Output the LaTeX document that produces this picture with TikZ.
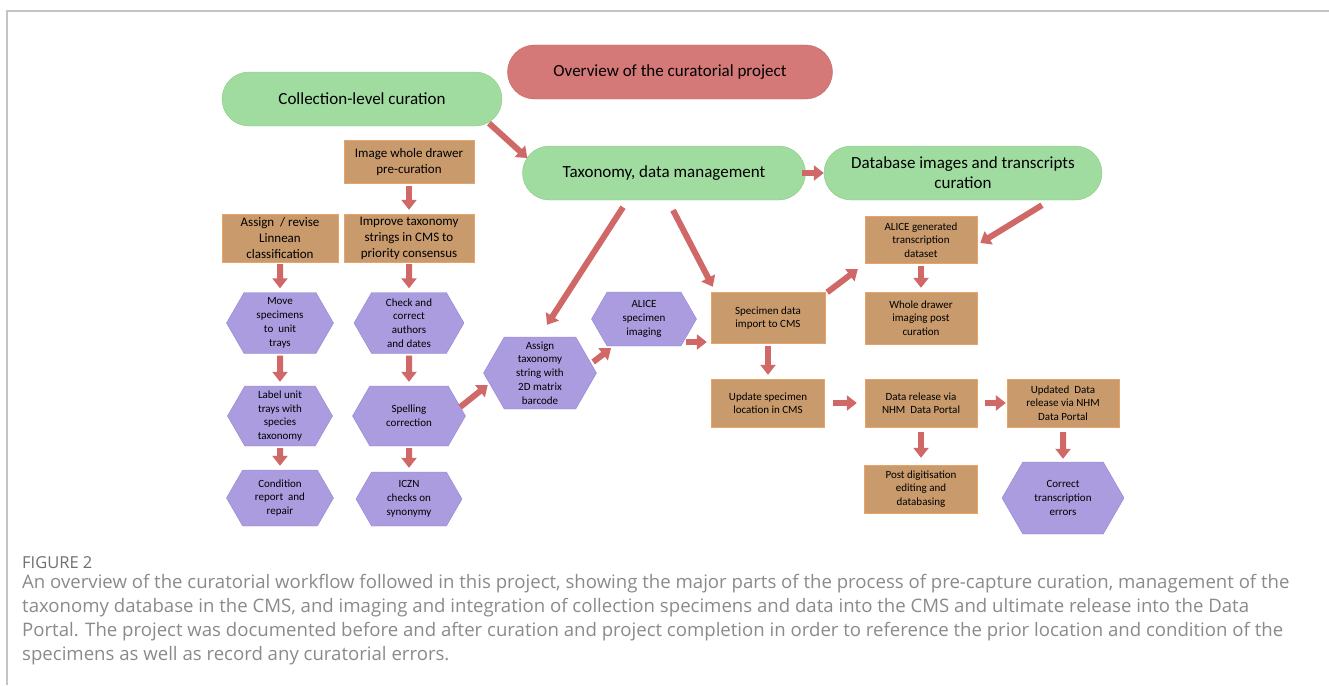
\documentclass[tikz,border=0pt]{standalone}
\usepackage{fontspec}
\setmainfont{Carlito}
\newfontfamily\capfont{Open Sans}
\usetikzlibrary{arrows.meta,positioning,shapes.misc,shapes.symbols}
\definecolor{ovalgreen}{HTML}{A0DCA0}
\definecolor{ovalgreenline}{HTML}{8CC87C}
\definecolor{ovalred}{HTML}{D47878}
\definecolor{ovalredline}{HTML}{C46464}
\definecolor{boxtan}{HTML}{C89A6C}
\definecolor{boxline}{HTML}{E8A468}
\definecolor{hexpurple}{HTML}{AA9CDE}
\definecolor{hexline}{HTML}{9484D4}
\definecolor{arrowred}{HTML}{D06868}
\definecolor{framegray}{HTML}{C4C4C4}
\definecolor{captiongray}{HTML}{8A8A8A}
\definecolor{labelgray}{HTML}{707070}

\begin{document}
\begin{tikzpicture}[x=1pt,y=-1pt,>={Triangle[width=15pt,length=10pt]}]
\tikzstyle{oval}=[rounded rectangle,draw=ovalgreenline,fill=ovalgreen,align=center,minimum height=54pt,inner sep=0pt,font=\fontsize{17}{20}\selectfont]
\tikzstyle{box}=[draw=boxline,fill=boxtan,align=center,inner sep=0pt,minimum width=113pt,minimum height=48pt,font=\fontsize{11}{13.5}\selectfont]
\tikzstyle{bigbox}=[box,minimum width=130pt,font=\fontsize{13}{16}\selectfont]
\tikzstyle{hexa}=[signal,signal to=east and west,signal pointer angle=120,draw=hexline,fill=hexpurple,align=center,inner sep=0pt,minimum width=107pt,minimum height=60pt,font=\fontsize{11}{13.8}\selectfont]
\tikzstyle{arr}=[->,draw=arrowred,line width=6pt,shorten >=4pt,shorten <=2pt]
\tikzstyle{darr}=[arr,shorten >=0pt,shorten <=0pt]
\useasboundingbox (0,0) rectangle (1329,685);
\draw[framegray,line width=1.5pt] (7,685) -- (7,11) -- (1329,11);

% top ovals
\node[oval,fill=ovalred,draw=ovalredline,minimum width=325pt] (overview) at (670,72) {Overview of the curatorial project};
\node[oval,minimum width=280pt] (collection) at (362,99) {Collection-level curation};
\node[oval,minimum width=283pt] (taxonomy) at (664,173) {Taxonomy, data management};
\node[oval,minimum width=278pt] (database) at (963,173) {Database images and transcripts\\curation};

% pre-capture curation
\node[bigbox,minimum height=43pt] (drawerpre) at (409,162) {Image whole drawer\\pre-curation};
\node[bigbox,minimum width=116pt] (linnean) at (280,238) {Assign~~/ revise\\Linnean\\classification};
\node[bigbox] (improve) at (409,238) {Improve taxonomy\\strings in CMS to\\priority consensus};
\node[hexa,minimum height=61pt] (move) at (280,323) {Move\\specimens\\to~~unit\\trays};
\node[hexa,minimum width=105pt] (label) at (280,416) {Label unit\\trays with\\species\\taxonomy};
\node[hexa,minimum height=56pt] (condition) at (280,498) {Condition\\report~~and\\repair};
\node[hexa,minimum width=110pt,minimum height=61pt] (authors) at (409,323) {Check and\\correct\\authors\\and dates};
\node[hexa,minimum width=113pt] (spelling) at (409,416) {Spelling\\correction};
\node[hexa,minimum width=106pt,minimum height=54pt] (iczn) at (409,499) {ICZN\\checks on\\synonymy};

% imaging and data
\node[hexa,minimum width=113pt,minimum height=72pt] (assign) at (540,373) {Assign\\taxonomy\\string with\\2D matrix\\barcode};
\node[hexa,minimum width=105pt,minimum height=54pt] (imaging) at (644,319) {ALICE\\specimen\\imaging};
\node[box,minimum width=114pt,minimum height=51pt] (import) at (768,318) {Specimen data\\import to CMS};
\node[box] (location) at (768,403) {Update specimen\\location in CMS};
\node[box,minimum width=112pt,minimum height=47pt] (transcripts) at (921,240) {ALICE generated\\transcription\\dataset};
\node[box,minimum width=112pt,minimum height=52pt] (drawerpost) at (921,318) {Whole drawer\\imaging post\\curation};
\node[box,minimum width=112pt] (release) at (921,403) {Data release via\\NHM~~Data Portal};
\node[box,minimum width=112pt] (updated) at (1063,403) {Updated~~Data\\release via NHM\\Data Portal};
\node[box] (editing) at (921,489) {Post digitisation\\editing and\\databasing};
\node[hexa,minimum width=122pt,minimum height=72pt] (correct) at (1063,498) {Correct\\transcription\\errors};

% caption
\node[anchor=west,inner sep=0pt,text=labelgray,font=\capfont\fontsize{16.5}{18}\selectfont] (figlabel) at (22,563) {FIGURE 2};
\node[anchor=north west,inner sep=0pt,align=left,text=captiongray,font=\capfont\fontsize{18.6}{24}\selectfont] (caption) at (22,574) {An overview of the curatorial workflow followed in this project, showing the major parts of the process of pre-capture curation, management of the\\taxonomy database in the CMS, and imaging and integration of collection specimens and data into the CMS and ultimate release into the Data\\Portal. The project was documented before and after curation and project completion in order to reference the prior location and condition of the\\specimens as well as record any curatorial errors.};

% arrows
\draw[darr] ([xshift=127pt,yshift=3pt]collection.south) -- ([xshift=5pt,yshift=15pt]taxonomy.west);
\draw[darr,shorten <=-3.5pt] (taxonomy.east) -- (database.west);
\draw[arr] (drawerpre) -- (improve);
\draw[arr] (linnean) -- (move);
\draw[arr] (move) -- (label);
\draw[arr] (label) -- (condition);
\draw[arr] (improve) -- (authors);
\draw[arr] (authors) -- (spelling);
\draw[arr] (spelling) -- (iczn);
\draw[darr] ([xshift=-5.5pt,yshift=9pt]spelling.east) -- ([xshift=4.5pt,yshift=-12pt]assign.west);
\draw[darr] ([xshift=-3.5pt,yshift=11pt]assign.east) -- ([xshift=-33pt,yshift=-2pt]imaging.south);
\draw[darr] ([xshift=-10.5pt,yshift=-23pt]imaging.east) -- ([xshift=-4pt,yshift=-24pt]import.west);
\draw[darr] ([xshift=-41pt,yshift=-7pt]taxonomy.south) -- ([xshift=7pt,yshift=12pt]assign.north);
\draw[darr] ([xshift=9pt,yshift=-10pt]taxonomy.south) -- ([xshift=2pt,yshift=5.5pt]import.north west);
\draw[arr] (import) -- (location);
\draw[darr] ([xshift=2pt]import.north east) -- ([xshift=-7pt,yshift=-5.5pt]transcripts.south west);
\draw[darr] ([xshift=79pt,yshift=-5pt]database.south) -- ([xshift=3pt,yshift=-3pt]transcripts.east);
\draw[arr] (transcripts) -- (drawerpost);
\draw[arr,shorten <=8.5pt,shorten >=8pt] (location) -- (release);
\draw[arr,shorten <=8pt,shorten >=1pt] (release) -- (updated);
\draw[arr,shorten <=5pt,shorten >=7pt] (release) -- (editing);
\draw[arr,shorten <=5pt,shorten >=3pt] (updated) -- (correct);
\end{tikzpicture}
\end{document}
